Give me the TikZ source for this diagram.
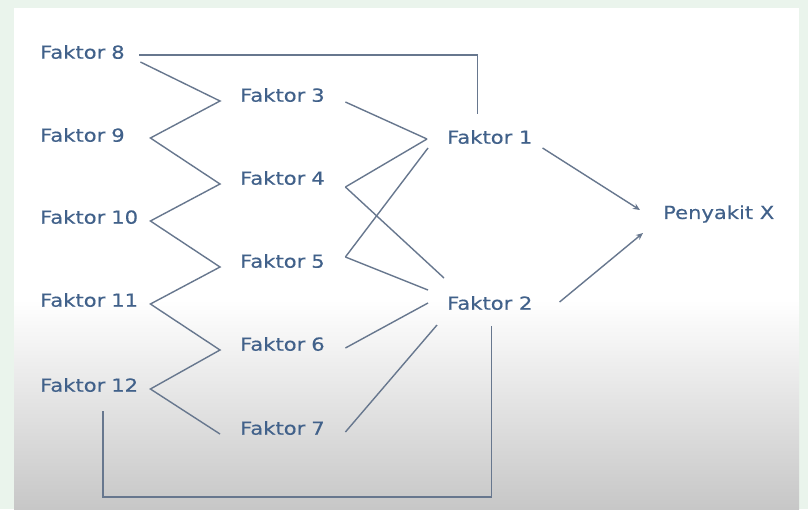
\documentclass[tikz,border=0pt]{standalone}
\usepackage{fontspec}
\setmainfont[FakeStretch=1.17,FakeBold=0.4]{DejaVu Sans}
\usetikzlibrary{arrows.meta}
\definecolor{fakblue}{HTML}{41618A}
\definecolor{linkgray}{HTML}{67778E}
\definecolor{framegreen}{HTML}{EAF4EC}

\begin{document}
\begin{tikzpicture}[%
  x=1pt,y=-1pt,
  fak/.style={anchor=west,inner sep=0pt,align=left,text=fakblue,font=\fontsize{18}{21}\selectfont},
  lfak/.style={fak,text width=103pt},
  mfak/.style={fak,text width=87pt},
  link/.style={draw=linkgray,line width=1.4pt},
  arr/.style={link,-{Stealth[length=7pt,width=6pt]}}]
\fill[framegreen] (0,0) rectangle (808,509);
\fill[white] (14,8) rectangle (799,300.5);
\shade[top color=white,bottom color=black!22] (14,300) rectangle (799,509);

\node[lfak] (f8) at (40,52) {Faktor 8};
\node[lfak] (f9) at (40,135) {Faktor 9};
\node[lfak] (f10) at (40,217) {Faktor 10};
\node[lfak] (f11) at (40,300) {Faktor 11};
\node[lfak] (f12) at (40,385) {Faktor 12};
\node[mfak] (f3) at (240,95) {Faktor 3};
\node[mfak] (f4) at (240,178) {Faktor 4};
\node[mfak] (f5) at (240,261) {Faktor 5};
\node[mfak] (f6) at (240,344) {Faktor 6};
\node[mfak] (f7) at (240,428) {Faktor 7};
\node[fak] (f1) at (447,137) {Faktor 1};
\node[fak] (f2) at (447,303) {Faktor 2};
\node[fak] (px) at (663,214) {Penyakit X};

\draw[link] ([xshift=-3pt,yshift=-10pt]f8.east)
  -- ([xshift=-20pt,yshift=-6pt]f3.west) -- ([xshift=7pt,yshift=-3pt]f9.east)
  -- ([xshift=-20pt,yshift=-6pt]f4.west) -- ([xshift=7pt,yshift=-4pt]f10.east)
  -- ([xshift=-20pt,yshift=-6pt]f5.west) -- ([xshift=7pt,yshift=-4pt]f11.east)
  -- ([xshift=-20pt,yshift=-6pt]f6.west) -- ([xshift=7pt,yshift=-4pt]f12.east)
  -- ([xshift=-20pt,yshift=-6pt]f7.west);

\draw[link] ([xshift=18pt,yshift=-7pt]f3.east) -- ([xshift=-20pt,yshift=-2pt]f1.west);
\draw[link] ([xshift=18pt,yshift=-9pt]f4.east) -- ([xshift=-20pt,yshift=-2pt]f1.west);
\draw[link] ([xshift=18pt,yshift=-9pt]f4.east) -- ([xshift=-3pt,yshift=25pt]f2.west);
\draw[link] ([xshift=18pt,yshift=4pt]f5.east) -- ([xshift=-19pt,yshift=-11pt]f1.west);
\draw[link] ([xshift=18pt,yshift=4pt]f5.east) -- ([xshift=-19pt,yshift=13pt]f2.west);
\draw[link] ([xshift=18pt,yshift=-4pt]f6.east) -- ([xshift=-19pt]f2.west);
\draw[link] ([xshift=18pt,yshift=-4pt]f7.east) -- ([xshift=-10pt,yshift=-22pt]f2.west);

\draw[arr] ([xshift=10pt,yshift=-11pt]f1.east) -- ([xshift=-23pt,yshift=4pt]px.west);
\draw[arr] ([xshift=27pt,yshift=1pt]f2.east) -- ([xshift=-20pt,yshift=-19pt]px.west);

\draw[link] ([xshift=-4pt,yshift=-3pt]f8.east) -| ([xshift=-12pt,yshift=16pt]f1.north);
\draw[link] ([xshift=63pt,yshift=-19pt]f12.south west) -- ++(0,86) -| ([xshift=2pt,yshift=-16pt]f2.south);
\end{tikzpicture}
\end{document}
